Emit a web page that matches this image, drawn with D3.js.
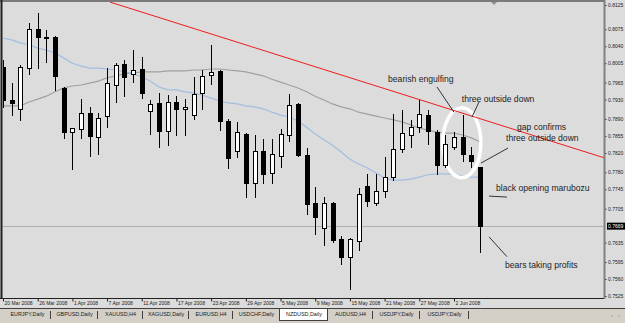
<!DOCTYPE html>
<html>
<head>
<meta charset="utf-8">
<script src="https://cdn.jsdelivr.net/npm/d3@7"></script>
<style>
  body { margin: 0; background: #dcdcdc; }
  svg { display: block; font-family: "Liberation Sans", Arial, sans-serif; }
</style>
</head>
<body>
<div class="chart"></div>
<script>
// NZDUSD daily bars, 20 Mar 2008 .. 5 Jun 2008
const dates = ['20 Mar 2008', '26 Mar 2008', '1 Apr 2008', '7 Apr 2008', '11 Apr 2008', '17 Apr 2008',
  '23 Apr 2008', '29 Apr 2008', '5 May 2008', '9 May 2008', '15 May 2008', '21 May 2008', '27 May 2008', '2 Jun 2008'];

const opens = [.7997,.7929,.7911,.7995,.8076,.8058,.8059,.7954,.7863,.7869,
  .7902,.7853,.7896,.7960,.8003,.7983,.7993,.7906,.7923,.7865,
  .7925,.7911,.7898,.7944,.7981,.7989,.7886,.7824,.7859,.7758,
  .7824,.7779,.7814,.7857,.7921,.7816,.7717,.7665,.7717,.7643,
  .7605,.7638,.7752,.7717,.7742,.7770,.7828,.7857,.7873,.7898,
  .7863,.7795,.7832,.7853,.7816,.7791];
const highs = [.8012,.7964,.8001,.8088,.8109,.8073,.8061,.7956,.7871,.7931,
  .7915,.7902,.7995,.8005,.8012,.8032,.8018,.7929,.7944,.7939,
  .7937,.7931,.7977,.7991,.8043,.7991,.7890,.7884,.7861,.7857,
  .7849,.7849,.7869,.7942,.7923,.7830,.7750,.7729,.7719,.7649,
  .7645,.7748,.7777,.7777,.7812,.7900,.7909,.7888,.7929,.7909,
  .7867,.7857,.7863,.7898,.7832,.7791];
const lows = [.7913,.7896,.7886,.7981,.7993,.8005,.7948,.7849,.7785,.7849,
  .7812,.7816,.7871,.7923,.7935,.7964,.7931,.7857,.7830,.7834,
  .7855,.7855,.7888,.7909,.7960,.7865,.7787,.7810,.7727,.7727,
  .7756,.7756,.7789,.7843,.7812,.7692,.7651,.7628,.7634,.7589,
  .7537,.7618,.7709,.7711,.7727,.7762,.7820,.7830,.7861,.7836,
  .7775,.7789,.7826,.7801,.7789,.7614];
const closes = [.7929,.7923,.7997,.8076,.8059,.8055,.7979,.7863,.7871,.7902,
  .7855,.7892,.7964,.8001,.7977,.7991,.7944,.7921,.7865,.7925,
  .7911,.7915,.7942,.7979,.7987,.7886,.7810,.7863,.7758,.7824,
  .7777,.7818,.7859,.7919,.7816,.7715,.7688,.7717,.7641,.7605,
  .7643,.7735,.7721,.7742,.7770,.7828,.7861,.7873,.7900,.7865,
  .7795,.7838,.7853,.7818,.7803,.7669];

// moving averages (grey = slow, blue = fast)
const maSlow = [.7917,.7917,.7917,.7925,.7931,.7937,.7946,.7954,.7958,.7960,
  .7964,.7968,.7975,.7979,.7983,.7985,.7987,.7987,.7987,.7989,
  .7989,.7989,.7991,.7991,.7993,.7993,.7991,.7989,.7987,.7983,
  .7979,.7972,.7966,.7960,.7954,.7946,.7937,.7929,.7921,.7915,
  .7911,.7904,.7900,.7896,.7892,.7888,.7884,.7878,.7871,.7867,
  .7863,.7861,.7861,.7857,.7851,.7843];
const maFast = [.8057,.8053,.8047,.8043,.8036,.8032,.8026,.8016,.8005,.7999,
  .7995,.7995,.7993,.7991,.7987,.7983,.7977,.7968,.7956,.7950,
  .7950,.7946,.7944,.7939,.7933,.7927,.7923,.7921,.7917,.7915,
  .7911,.7904,.7898,.7894,.7886,.7873,.7859,.7847,.7836,.7822,
  .7807,.7797,.7789,.7779,.7768,.7764,.7764,.7766,.7770,.7775,
  .7777,.7777,.7777,.7772,.7770,.7770];

const yTicks = [0.8125, 0.8075, 0.8040, 0.8005, 0.7965, 0.7930, 0.7890, 0.7855, 0.7820,
  0.7780, 0.7745, 0.7705, 0.7635, 0.7595, 0.7560, 0.7525];
const lastPrice = 0.7669;

// trend line end points [bar, price]
const trend = [[12.34, 0.8131], [69.3, 0.7810]];

// text notes [bar, price] and pointer lines
const notes = [
  {text: 'bearish engulfing', i: 44.4, p: 0.7972},
  {text: 'three outside down', i: 52.9, p: 0.7931},
  {text: 'gap confirms', i: 59.26, p: 0.7874},
  {text: 'three outside down', i: 58.0, p: 0.7851},
  {text: 'black opening marubozu', i: 56.84, p: 0.7748},
  {text: 'bears taking profits', i: 57.88, p: 0.7589}
];
const pointers = [
  [[50.04, 0.7956], [52.0, 0.7904]],
  [[54.88, 0.7925], [54.08, 0.7894]],
  [[58.23, 0.7830], [55.11, 0.7799]],
  [[56.04, 0.7731], [58.11, 0.7729]],
  [[56.04, 0.7647], [58.11, 0.7606]]
];

const tabs = ['EURJPY,Daily', 'GBPUSD,Daily', 'XAUUSD,H4', 'XAGUSD,Daily', 'EURUSD,H4', 'USDCHF,Daily',
  'NZDUSD,Daily', 'AUDUSD,H4', 'USDJPY,Daily', 'USDJPY,Daily'];
const activeTab = 'NZDUSD,Daily';

const W = 625, H = 323;
const plot = {left: 3, right: 604, top: 2, bottom: 298};

const svg = d3.select('.chart').append('svg')
  .attr('width', W).attr('height', H);

svg.append('rect').attr('width', W).attr('height', H).attr('fill', '#dcdcdc');

const x = d3.scaleLinear().domain([0, 55]).range([3, 480]);
const y = d3.scaleLinear().domain([0.7525, 0.8125]).range([296, 5]);

svg.append('clipPath').attr('id', 'clip')
  .append('rect')
  .attr('x', plot.left).attr('y', plot.top)
  .attr('width', plot.right - plot.left).attr('height', plot.bottom - plot.top);

const g = svg.append('g').attr('clip-path', 'url(#clip)');

// last price line
g.append('line')
  .attr('x1', plot.left).attr('x2', plot.right)
  .attr('y1', Math.round(y(lastPrice)) + 0.5).attr('y2', Math.round(y(lastPrice)) + 0.5)
  .attr('stroke', '#b0b0b0');

const idx = d3.range(opens.length);

const line = d3.line().x(i => x(i));
g.append('path')
  .attr('d', line.y(i => y(maSlow[i]))(idx))
  .attr('fill', 'none').attr('stroke', '#a0a0a0').attr('stroke-width', 1.2);
g.append('path')
  .attr('d', line.y(i => y(maFast[i]))(idx))
  .attr('fill', 'none').attr('stroke', '#a3bde0').attr('stroke-width', 1.2);

// white ellipse around the three outside down
g.append('ellipse')
  .attr('cx', x(52.9)).attr('cy', y(0.7841))
  .attr('rx', x(55.1) - x(52.9)).attr('ry', y(0.7841) - y(0.7913))
  .attr('fill', 'none').attr('stroke', '#fff').attr('stroke-width', 3.5);

// candles
const candles = g.selectAll('.candle').data(idx).enter().append('g');
candles.append('line')
  .attr('x1', i => Math.round(x(i)) + 0.5).attr('x2', i => Math.round(x(i)) + 0.5)
  .attr('y1', i => Math.round(y(highs[i]))).attr('y2', i => Math.round(y(lows[i])))
  .attr('stroke', '#000');
candles.append('rect')
  .attr('x', i => Math.round(x(i)) - 2 + 0.5)
  .attr('y', i => Math.round(y(Math.max(opens[i], closes[i]))) + 0.5)
  .attr('width', 4)
  .attr('height', i => Math.max(1, Math.round(Math.abs(y(opens[i]) - y(closes[i])))))
  .attr('fill', i => closes[i] > opens[i] ? '#fff' : '#000')
  .attr('stroke', '#000');

// trend line
g.append('line')
  .attr('x1', x(trend[0][0])).attr('y1', y(trend[0][1]))
  .attr('x2', x(trend[1][0])).attr('y2', y(trend[1][1]))
  .attr('stroke', '#ee1c1c');

// notes
g.selectAll('.note').data(notes).enter().append('text')
  .attr('x', d => x(d.i)).attr('y', d => y(d.p))
  .attr('dy', '0.35em')
  .attr('font-size', 8.6)
  .attr('fill', '#1c1c1c')
  .text(d => d.text);
g.selectAll('.pointer').data(pointers).enter().append('line')
  .attr('x1', d => x(d[0][0])).attr('y1', d => y(d[0][1]))
  .attr('x2', d => x(d[1][0])).attr('y2', d => y(d[1][1]))
  .attr('stroke', '#333');

// shift marker
svg.append('path').attr('d', 'M491,2 L497,2 L494,5 Z').attr('fill', '#909090');

// frame
svg.append('line').attr('x1', 0).attr('x2', plot.right).attr('y1', 1).attr('y2', 1)
  .attr('stroke', '#7a7a7a').attr('stroke-width', 2);
svg.append('line').attr('x1', 1.5).attr('x2', 1.5).attr('y1', 0).attr('y2', 299)
  .attr('stroke', '#202020').attr('stroke-width', 2);
svg.append('line').attr('x1', 0).attr('x2', plot.right + 1).attr('y1', 298.5).attr('y2', 298.5)
  .attr('stroke', '#202020');

// right price axis
const yAxis = d3.axisRight(y).tickValues(yTicks).tickSize(2).tickSizeOuter(0)
  .tickFormat(d3.format('.4f'));
const ya = svg.append('g').attr('transform', 'translate(604.5,0)').call(yAxis);
ya.select('.domain').remove();
ya.selectAll('.tick line').attr('stroke', '#303030');
ya.selectAll('.tick text').attr('x', 3.5).attr('font-size', 5).attr('fill', '#202020')
  .attr('font-family', '"Liberation Sans", Arial, sans-serif');
svg.append('line').attr('x1', 604.5).attr('x2', 604.5).attr('y1', 0).attr('y2', 299)
  .attr('stroke', '#808080').attr('stroke-width', 2);

// last price label
const ly = y(lastPrice);
svg.append('rect').attr('x', 607).attr('y', ly - 3.5).attr('width', 18).attr('height', 7).attr('fill', '#000');
svg.append('text').attr('x', 608).attr('y', ly).attr('dy', '0.35em')
  .attr('font-size', 5).attr('fill', '#fff').text(d3.format('.4f')(lastPrice));

// date axis
const xAxis = d3.axisBottom(x).tickValues(d3.range(0, opens.length, 4)).tickSize(3).tickSizeOuter(0)
  .tickFormat((d, i) => dates[i]);
const xa = svg.append('g').attr('transform', 'translate(0,298.5)').call(xAxis);
xa.select('.domain').remove();
xa.selectAll('.tick line').attr('stroke', '#202020');
xa.selectAll('.tick text').attr('y', 3).attr('dx', 1).attr('text-anchor', 'start')
  .attr('font-size', 5).attr('fill', '#202020')
  .attr('font-family', '"Liberation Sans", Arial, sans-serif');

// symbol tabs
const tabY = 308;
svg.append('rect').attr('x', 0).attr('y', tabY).attr('width', W).attr('height', H - tabY).attr('fill', '#d4d0c8');
svg.append('line').attr('x1', 0).attr('x2', W).attr('y1', tabY + 0.5).attr('y2', tabY + 0.5).attr('stroke', '#404040');
const seps = [3, 50, 97, 142, 188, 232, 279, 327, 372, 419, 468];
tabs.forEach((t, k) => {
  const a = seps[k], b = seps[k + 1];
  if (t === activeTab) {
    svg.append('rect').attr('x', a + 0.5).attr('y', tabY + 0.5).attr('width', b - a).attr('height', 12)
      .attr('fill', '#fff').attr('stroke', '#404040');
  }
  svg.append('text').attr('x', (a + b) / 2 + 1).attr('y', tabY + 6.5).attr('dy', '0.35em')
    .attr('text-anchor', 'middle').attr('font-size', 5.4).attr('fill', '#202020').text(t);
});
seps.slice(1).forEach(s => {
  svg.append('line').attr('x1', s + 0.5).attr('x2', s + 0.5).attr('y1', tabY + 3).attr('y2', tabY + 11)
    .attr('stroke', '#404040');
});
svg.append('text').attr('x', 611).attr('y', tabY + 6.5).attr('dy', '0.35em').attr('font-size', 6)
  .attr('fill', '#909090').text('\u2039');
svg.append('text').attr('x', 618).attr('y', tabY + 6.5).attr('dy', '0.35em').attr('font-size', 6)
  .attr('fill', '#909090').text('\u203A');
</script>
</body>
</html>
